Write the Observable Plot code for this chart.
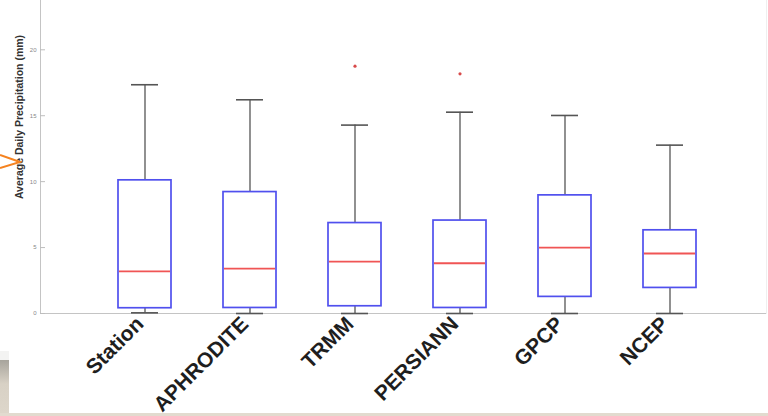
<!DOCTYPE html>
<html>
<head>
<meta charset="utf-8">
<script src="https://cdn.jsdelivr.net/npm/d3@7"></script>
<script src="https://cdn.jsdelivr.net/npm/@observablehq/plot@0.6"></script>
<style>
  html, body { margin: 0; padding: 0; background: #fff; }
  #wrap { position: relative; width: 768px; height: 416px; overflow: hidden; background: #fff; }
  #wrap svg { position: absolute; left: 0; top: 0; }
  .deco { position: absolute; }
</style>
</head>
<body>
<div id="wrap">
  <div class="deco" style="left:0;top:351px;width:9px;height:10px;background:#f3f3f2;"></div>
  <div class="deco" style="left:0;top:360px;width:9px;height:53px;background:linear-gradient(#a7a49c, #d8d1c5 45%, #ddd6ca);"></div>
  <div class="deco" style="left:0;top:413px;width:768px;height:3px;background:#e2dbcf;"></div>
</div>
<script>
// Data (mm)
const categories = ["Station", "APHRODITE", "TRMM", "PERSIANN", "GPCP", "NCEP"];
const whiskerLow = [0.05, 0, 0, 0, 0, 0];
const q1Values = [0.40, 0.42, 0.55, 0.42, 1.26, 1.94];
const medianValues = [3.20, 3.41, 3.94, 3.81, 5.00, 4.55];
const q3Values = [10.10, 9.21, 6.86, 7.05, 8.96, 6.31];
const whiskerHigh = [17.35, 16.21, 14.29, 15.27, 15.02, 12.77];
const outlierCategories = ["TRMM", "PERSIANN"];
const outlierValues = [18.76, 18.18];
const yTicks = [0, 5, 10, 15, 20];
const yLabel = "Average Daily Precipitation (mm)";

const boxes = categories.map((c, i) => ({
  name: c, lo: whiskerLow[i], q1: q1Values[i], med: medianValues[i], q3: q3Values[i], hi: whiskerHigh[i]
}));
const outliers = outlierCategories.map((c, i) => ({ name: c, v: outlierValues[i] }));

const chart = Plot.plot({
  width: 768,
  height: 416,
  marginLeft: 40,
  marginRight: 2,
  marginTop: 0,
  marginBottom: 103,
  style: { background: "transparent", fontFamily: "'Liberation Sans', Arial, sans-serif" },
  x: { domain: categories, paddingInner: 0.496, paddingOuter: 0.6985, align: 0.527, label: null },
  y: { domain: [0, 23.74], label: null },
  marks: [
    Plot.frame({ anchor: "right", stroke: "#efefef" }),
    Plot.frame({ anchor: "left", stroke: "#c4c4c4" }),
    Plot.ruleY([0], { stroke: "#c4c4c4", strokeWidth: 1.2 }),
    Plot.axisY({ ticks: yTicks, tickSize: -5, tickPadding: 9, stroke: "#bdbdbd", fill: "#888", fontSize: 6, label: null }),
    Plot.axisX({ tickSize: 0, tickPadding: 7, dx: -5, tickRotate: -45, fontSize: 21, fontWeight: "bold", fill: "#1e1e1e", label: null }),
    Plot.text([yLabel], { frameAnchor: "left", textAnchor: "middle", dx: -21, dy: -40, rotate: -90, fontSize: 10.5, fontWeight: "bold", fill: "#333" }),
    // whiskers
    Plot.ruleX(boxes, { x: "name", y1: "q3", y2: "hi", stroke: "#555", strokeWidth: 1.3 }),
    Plot.ruleX(boxes, { x: "name", y1: "lo", y2: "q1", stroke: "#555", strokeWidth: 1.3 }),
    Plot.tickY(boxes, { x: "name", y: "hi", stroke: "#555", strokeWidth: 1.6, insetLeft: 13, insetRight: 13 }),
    Plot.tickY(boxes, { x: "name", y: "lo", stroke: "#555", strokeWidth: 1.6, insetLeft: 13, insetRight: 13 }),
    // boxes
    Plot.barY(boxes, { x: "name", y1: "q1", y2: "q3", fill: "none", stroke: "#5050ee", strokeWidth: 1.7 }),
    // medians
    Plot.tickY(boxes, { x: "name", y: "med", stroke: "#f05555", strokeWidth: 1.8, insetLeft: 1, insetRight: 1 }),
    // outliers
    Plot.dot(outliers, { x: "name", y: "v", r: 1.6, fill: "#d84a4a", stroke: "none" })
  ]
});
document.getElementById("wrap").appendChild(chart);
</script>
<svg style="position:absolute;left:0;top:0;width:30px;height:416px;" width="30" height="416">
  <polyline points="0,155 20,162 0,168" fill="none" stroke="#f5821f" stroke-width="2"/>
</svg>
</body>
</html>
